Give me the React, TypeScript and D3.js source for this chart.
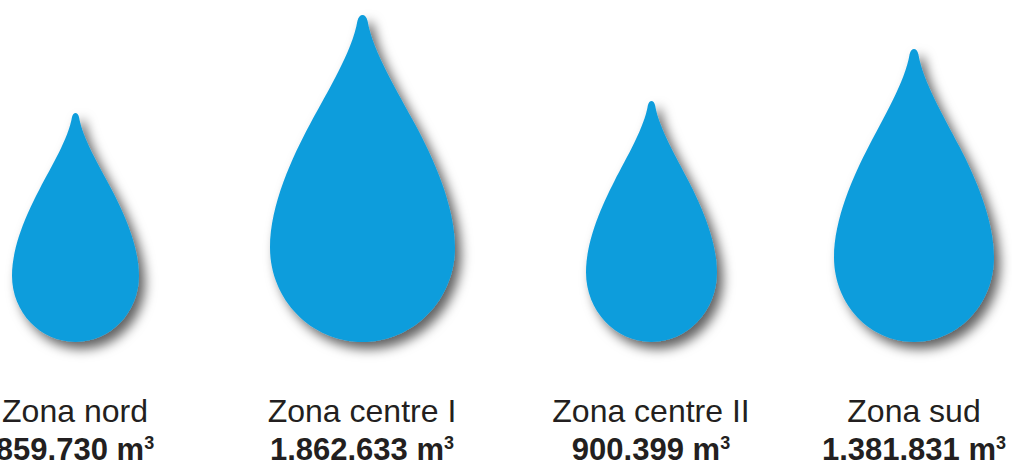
import React from "react";
import * as d3 from "d3";

const zones = ["Zona nord", "Zona centre I", "Zona centre II", "Zona sud"];
const volumes = [859730, 1862633, 900399, 1381831];
const volumeLabels = ["859.730", "1.862.633", "900.399", "1.381.831"];
const unit = "m";
const unitSup = "3";

// layout
const WIDTH = 1012;
const HEIGHT = 469;
const BASE_Y = 342;
const centers = [75.5, 362.5, 651.5, 914];
const sizeDomain = [859730, 900399, 1381831, 1862633];
const widthRange = [127, 131, 160, 185];
const heightRange = [229, 241, 293, 327];
const labelCenters = [75, 362, 651, 914];

// right half of the unit drop as cubic segments: [c1x, c1y, c2x, c2y, x, y]
// x is a fraction of half the width, y a fraction of the way from tip to base
const tipStart: [number, number] = [0.055, 0.018];
const segments: number[][] = [
  [0.11, 0.11, 0.377, 0.233, 0.567, 0.333],
  [0.757, 0.433, 1, 0.58, 1, 0.711],
  [1, 0.871, 0.5523, 1, 0, 1],
];

const widthScale = d3.scaleLinear().domain(sizeDomain).range(widthRange);
const heightScale = d3.scaleLinear().domain(sizeDomain).range(heightRange);

function dropPath(value: number, cx: number): string {
  const w = widthScale(value);
  const h = heightScale(value);
  const x = d3.scaleLinear().domain([-1, 1]).range([cx - w / 2, cx + w / 2]);
  const y = d3.scaleLinear().domain([0, 1]).range([BASE_Y - h, BASE_Y]);
  const p = d3.path();
  p.moveTo(x(-tipStart[0]), y(tipStart[1]));
  // rounded tip
  p.bezierCurveTo(x(-0.035), y(-0.006), x(0.035), y(-0.006), x(tipStart[0]), y(tipStart[1]));
  // down the right side
  segments.forEach((s) => p.bezierCurveTo(x(s[0]), y(s[1]), x(s[2]), y(s[3]), x(s[4]), y(s[5])));
  // back up the left side, mirrored and reversed
  const pts = [tipStart as number[], ...segments.map((s) => s.slice(4))];
  for (let i = segments.length - 1; i >= 0; i--) {
    const s = segments[i];
    p.bezierCurveTo(x(-s[2]), y(s[3]), x(-s[0]), y(s[1]), x(-pts[i][0]), y(pts[i][1]));
  }
  p.closePath();
  return p.toString();
}

export default function App() {
  const font = "'Liberation Sans', Arial, sans-serif";
  return (
    <svg
      width={WIDTH}
      height={HEIGHT}
      viewBox={`0 0 ${WIDTH} ${HEIGHT}`}
      style={{ position: "absolute", left: 0, top: 0, background: "#fff" }}
    >
      <defs>
        <filter id="dropShadow" x="-30%" y="-30%" width="160%" height="160%">
          <feDropShadow dx="6" dy="7" stdDeviation="6" floodColor="#000" floodOpacity="0.62" />
        </filter>
      </defs>
      {zones.map((zone, i) => (
        <g key={zone}>
          <path d={dropPath(volumes[i], centers[i])} fill="#0F9DDC" filter="url(#dropShadow)" />
          <text
            x={labelCenters[i]}
            y={422}
            textAnchor="middle"
            fontFamily={font}
            fontSize={32}
            fill="#231F20"
          >
            {zone}
          </text>
          <text
            x={labelCenters[i]}
            y={460}
            textAnchor="middle"
            fontFamily={font}
            fontSize={31}
            fontWeight="bold"
            fill="#231F20"
          >
            {volumeLabels[i]} {unit}
            <tspan fontSize={18} dy={-11}>
              {unitSup}
            </tspan>
          </text>
        </g>
      ))}
    </svg>
  );
}
